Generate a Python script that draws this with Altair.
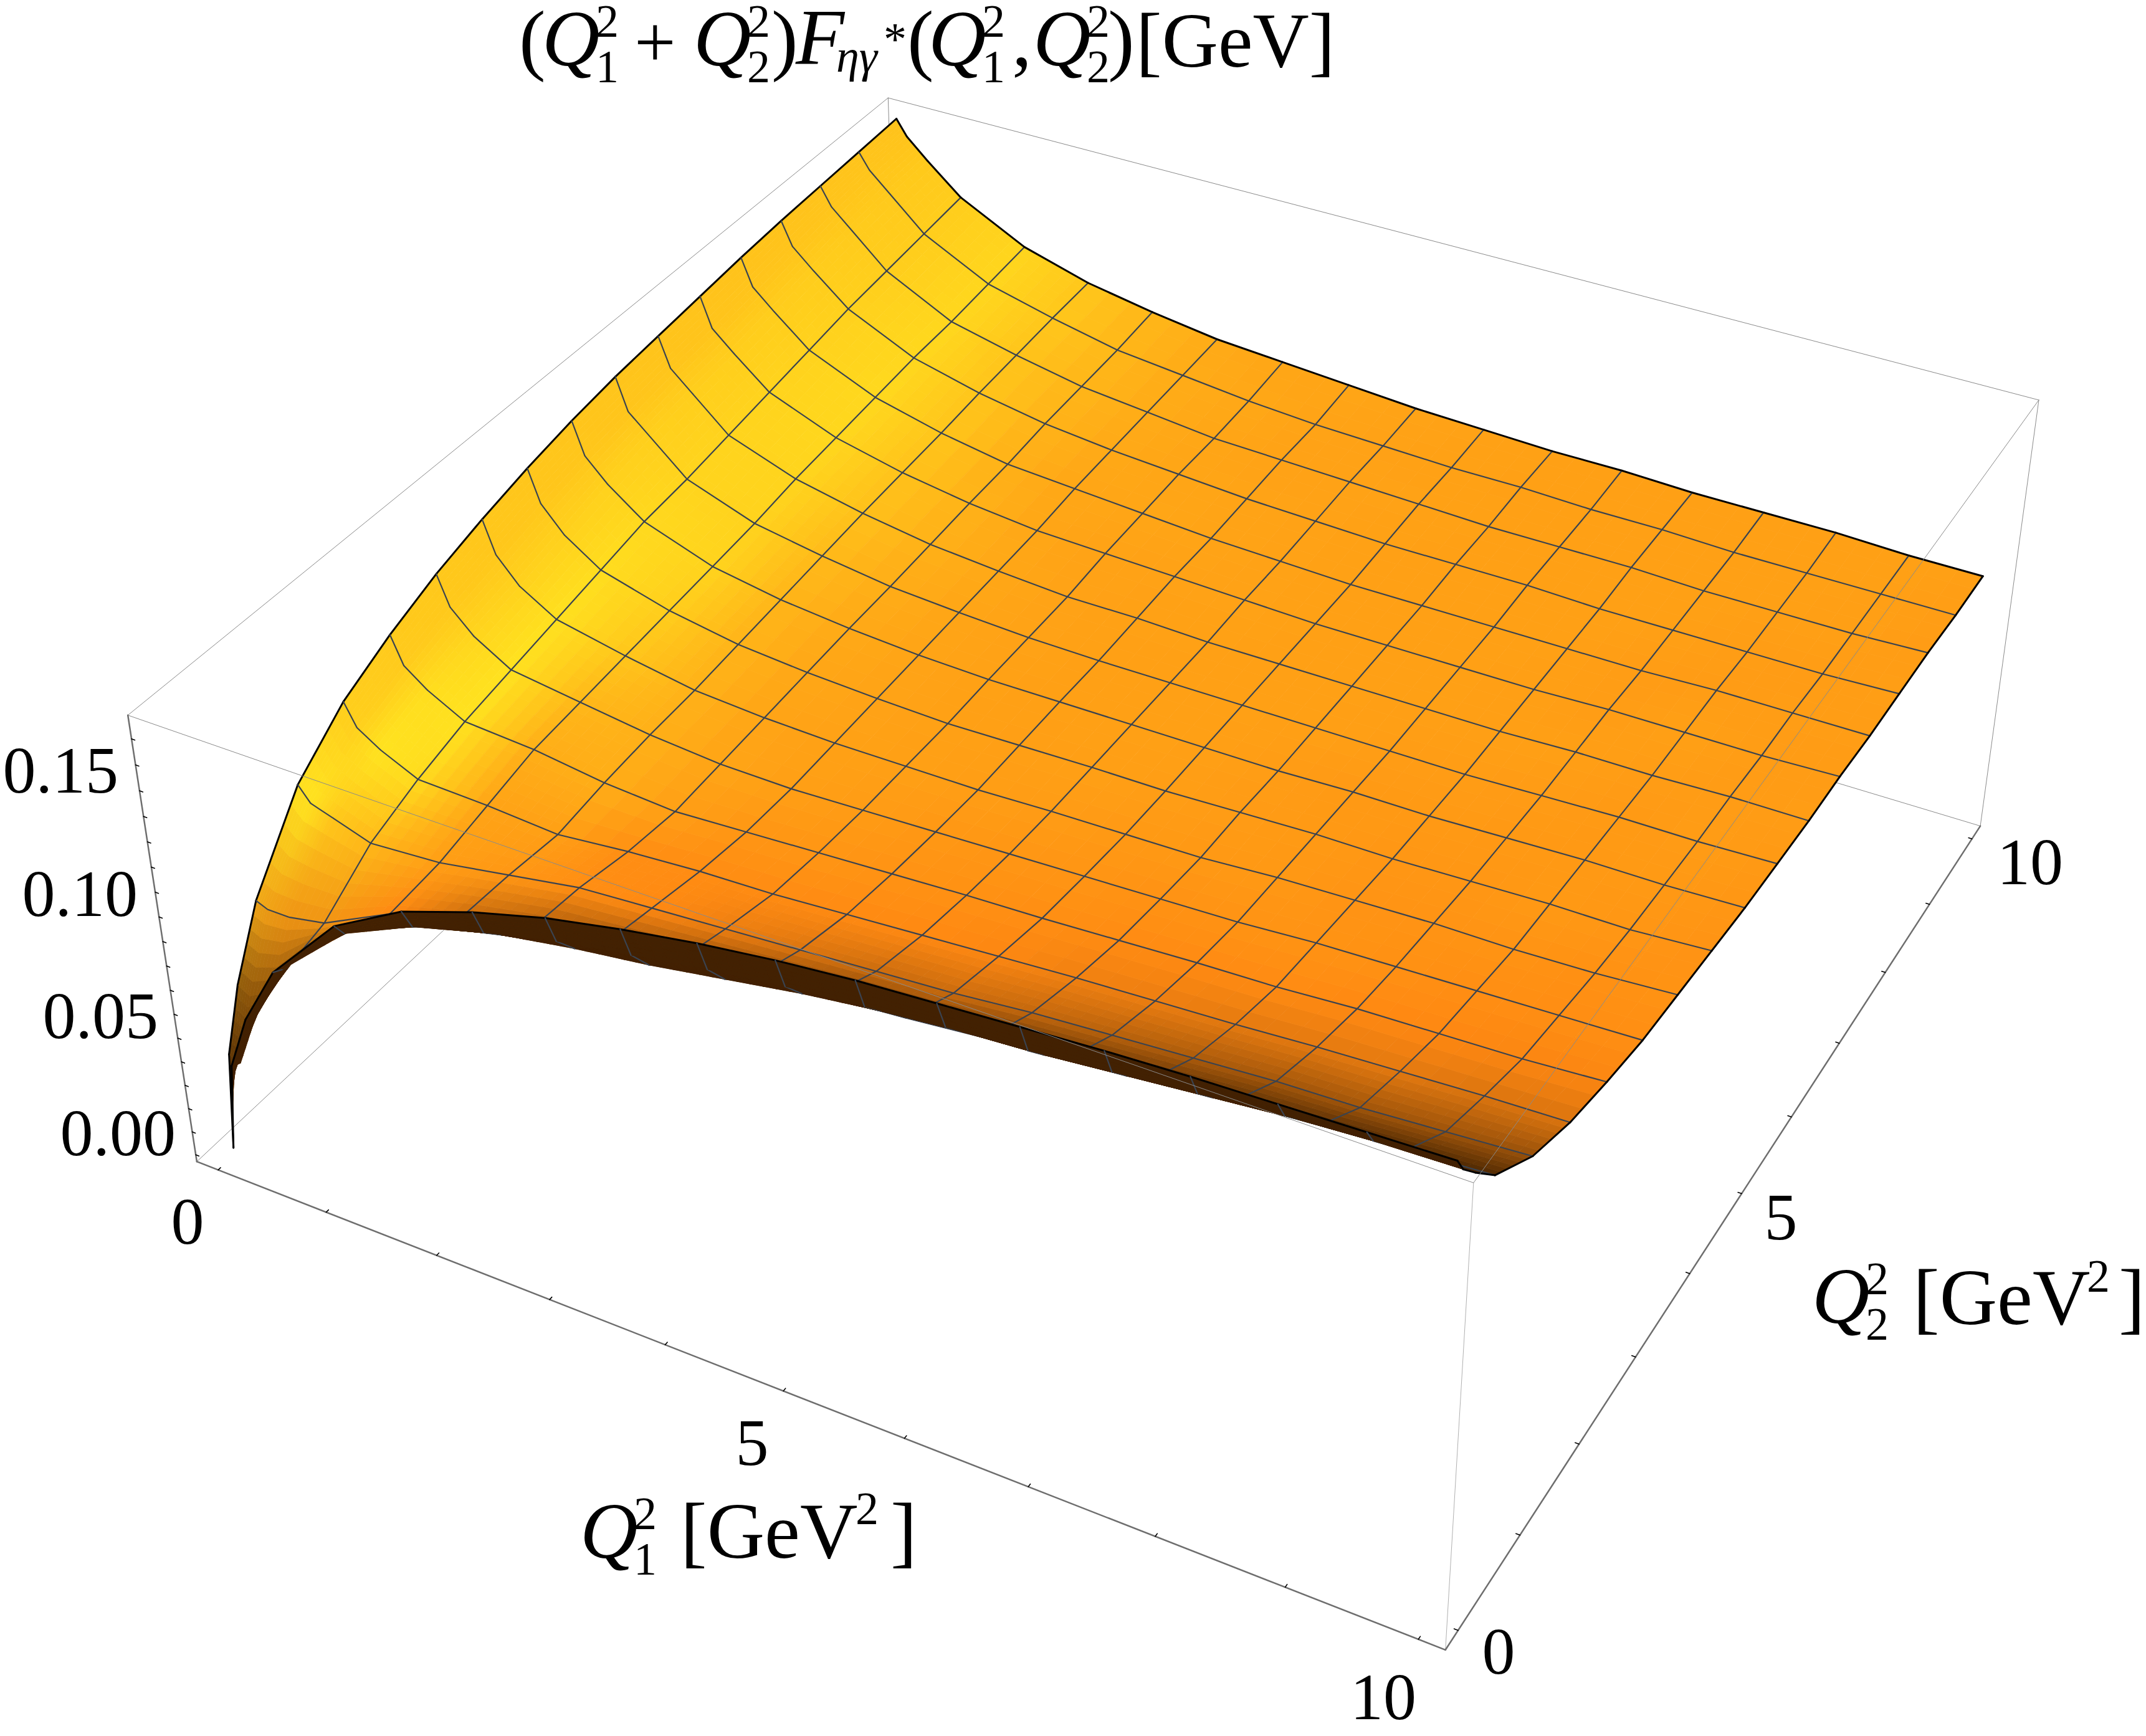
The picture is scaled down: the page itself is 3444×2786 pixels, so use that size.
import numpy as np
import altair as alt

# ---- data ----
q_grid = [0, .1, .3, .625, 1.25, 1.875, 2.5, 3.125, 3.75, 4.375, 5, 5.625, 6.25, 6.875, 7.5, 8.125, 8.75, 9.375, 10]
# lower triangle of the symmetric surface z(a, b), b <= a
z_rows = [
 [0],
 [.037, .035],
 [.060, .057, .062],
 [.085, .083, .083, .086],
 [.114, .108, .105, .100, .102],
 [.130, .121, .115, .108, .107, .105],
 [.140, .129, .122, .114, .112, .108, .106],
 [.148, .136, .127, .118, .114, .110, .1075, .107],
 [.154, .141, .131, .122, .116, .111, .109, .108, .108],
 [.159, .146, .136, .126, .118, .113, .1105, .109, .108, .1085],
 [.163, .150, .141, .130, .120, .115, .112, .110, .109, .109, .109],
 [.166, .153, .145, .132, .122, .117, .113, .111, .1095, .109, .109, .109],
 [.168, .156, .148, .135, .125, .119, .1145, .112, .110, .110, .109, .109, .109],
 [.170, .158, .150, .138, .127, .1205, .116, .113, .112, .111, .110, .109, .109, .109],
 [.172, .161, .153, .141, .129, .122, .117, .115, .113, .111, .110, .109, .109, .109, .109],
 [.1735, .164, .156, .144, .131, .124, .119, .116, .114, .112, .111, .110, .110, .110, .109, .109],
 [.1745, .167, .159, .146, .132, .1255, .120, .117, .114, .113, .112, .111, .110, .110, .110, .109, .109],
 [.1755, .169, .161, .148, .134, .127, .121, .118, .115, .113, .112, .111, .111, .110, .110, .109, .109, .109],
 [.1765, .170, .162, .150, .136, .128, .123, .119, .117, .115, .113, .112, .111, .111, .110, .110, .110, .109, .109],
]
low_q_shade = [.92, .85, .62, .08]  # darkening of the low-Q corner, by row
mesh_from = 3  # first grid index carrying a mesh line
q_ticks = list(range(0, 11))
z_ticks = [round(i * .01, 2) for i in range(0, 18)]
q_range = (-.2, 10.2)
z_range = (-.003, .179)
# view calibration: box corners as seen in the picture
view_corners = [
 ((0, 0, 0), (318, 1867)), ((1, 0, 0), (2322, 2647)), ((1, 1, 0), (3178, 1324)), ((0, 1, 0), (1443, 804)),
 ((0, 0, 1), (204, 1144)), ((1, 0, 1), (2361, 1900)), ((1, 1, 1), (3273, 643)), ((0, 1, 1), (1428, 158)),
]
FONT = "Liberation Serif"
W, H = 3428, 2770

# ---- projection ----
A = []
for (u, v, w), (x, y) in view_corners:
    A.append([u, v, w, 1, 0, 0, 0, 0, -x*u, -x*v, -x*w, -x])
    A.append([0, 0, 0, 0, u, v, w, 1, -y*u, -y*v, -y*w, -y])
P = np.linalg.svd(np.array(A, float))[2][-1].reshape(3, 4)


def hom(a, b, z):
    u = (a - q_range[0]) / (q_range[1] - q_range[0])
    v = (b - q_range[0]) / (q_range[1] - q_range[0])
    w = (z - z_range[0]) / (z_range[1] - z_range[0])
    return P @ np.array([u, v, w, 1.0])


def proj(a, b, z):
    h = hom(a, b, z)
    return [round(float(h[0] / h[2]) - 8, 1), round(float(h[1] / h[2]) - 8, 1)]


def depth(a, b, z):
    return abs(float(hom(a, b, z)[2]))


q = np.array(q_grid, float)
n = len(q)
Z = np.zeros((n, n))  # Z[i, j]: a = q[i], b = q[j]
for i, row in enumerate(z_rows):
    for j, v in enumerate(row):
        Z[i, j] = Z[j, i] = v

# ---- shading from surface normals ----
zs = 10.4 / .182
za = -np.gradient(Z, q, axis=0) * zs
zb = -np.gradient(Z, q, axis=1) * zs
nrm = np.sqrt(1 + za**2 + zb**2)
na, nb = za / nrm, zb / nrm
ORANGE = np.array([255, 158, 21.]); DEEP = np.array([255, 136, 18.])
YELLOW = np.array([255, 232, 32.]); BROWN = np.array([70, 36, 2.])
UNDER = (66, 33, 2)


def mix(c1, c2, t):
    return c1 + (c2 - c1) * t


C = np.zeros((n, n, 3))
for i in range(n):
    for j in range(n):
        c = mix(ORANGE, DEEP, min(max(nb[i, j], 0) / .35, 1))
        y = np.exp(-((na[i, j] - .72) / .38)**2) * (1 - min(max(nb[i, j], 0) / .5, 1)) * (1 - .25 * q[j] / 10)
        c = mix(c, YELLOW, y)
        d = min(max((nb[i, j] - .35) / .55, 0), 1)**1.3
        if i <= 3 and j <= 3:
            d = max(d, low_q_shade[j])
        C[i, j] = mix(c, BROWN, d)


def hexc(c):
    return "#%02x%02x%02x" % tuple(int(round(float(x))) for x in c)


def area(p):
    s = 0
    for k in range(len(p)):
        x0, y0 = p[k]; x1, y1 = p[(k + 1) % len(p)]
        s += x0 * y1 - x1 * y0
    return s


def poly(ring, color):
    return {"type": "Feature", "geometry": {"type": "Polygon", "coordinates": [ring + [ring[0]]]},
            "properties": {"f": color, "s": color, "w": 0.8}}


def line(pts, color, width):
    return {"type": "Feature", "geometry": {"type": "LineString", "coordinates": pts},
            "properties": {"f": "transparent", "s": color, "w": width}}


ref_sign = np.sign(area([proj(q[i], q[j], Z[i, j]) for i, j in [(15, 15), (16, 15), (16, 16), (15, 16)]]))
cell_depth = np.zeros((n - 1, n - 1))
for i in range(n - 1):
    for j in range(n - 1):
        cell_depth[i, j] = np.mean([depth(q[i + a], q[j + b], Z[i + a, j + b]) for a in (0, 1) for b in (0, 1)])

items = []
for i in range(n - 1):
    for j in range(n - 1):
        SUB = 6 if (i <= 4 or j <= 4) else 3

        def pt(s, t):
            a = q[i] + (q[i + 1] - q[i]) * s
            b = q[j] + (q[j + 1] - q[j]) * t
            z = (Z[i, j]*(1-s)*(1-t) + Z[i+1, j]*s*(1-t) + Z[i, j+1]*(1-s)*t + Z[i+1, j+1]*s*t)
            col = (C[i, j]*(1-s)*(1-t) + C[i+1, j]*s*(1-t) + C[i, j+1]*(1-s)*t + C[i+1, j+1]*s*t)
            return proj(a, b, z), col
        for si in range(SUB):
            for sj in range(SUB):
                cs = [(si/SUB, sj/SUB), ((si+1)/SUB, sj/SUB), ((si+1)/SUB, (sj+1)/SUB), (si/SUB, (sj+1)/SUB)]
                res = [pt(s, t) for s, t in cs]
                ring = [r[0] for r in res]
                col = sum(r[1] for r in res) / 4
                if np.sign(area(ring)) != ref_sign:
                    col = np.array(UNDER, float)
                items.append((cell_depth[i, j], 0, poly(ring, hexc(col))))

MESH = "#3a4350"
for i in range(n):
    for j in range(n - 1):
        edge = i == 0 or i == n - 1
        if edge or i >= mesh_from:
            neigh = [cell_depth[k, j] for k in (i - 1, i) if 0 <= k < n - 1]
            items.append((min(neigh) - 1e-9, 1, line([proj(q[i], q[j], Z[i, j]), proj(q[i], q[j + 1], Z[i, j + 1])],
                                                     "#000000" if edge else MESH, 3 if edge else 2.2)))
            neigh = [cell_depth[j, k] for k in (i - 1, i) if 0 <= k < n - 1]
            items.append((min(neigh) - 1e-9, 1, line([proj(q[j], q[i], Z[j, i]), proj(q[j + 1], q[i], Z[j + 1, i])],
                                                     "#000000" if edge else MESH, 3 if edge else 2.2)))
items.sort(key=lambda it: (-it[0], it[1]))
surface = [it[2] for it in items]

# ---- box and ticks ----
lo, hi = q_range
zl, zh = z_range
c = {k: proj(*k) for k in [(x, y, z) for x in (lo, hi) for y in (lo, hi) for z in (zl, zh)]}
THIN = "#8a8a8a"; AXIS = "#6e6e6e"
back = [line([c[(lo, lo, zh)], c[(lo, hi, zh)]], THIN, 1), line([c[(lo, hi, zh)], c[(hi, hi, zh)]], THIN, 1),
        line([c[(lo, hi, zh)], c[(lo, hi, zl)]], THIN, 1), line([c[(lo, lo, zl)], c[(lo, hi, zl)]], THIN, 1),
        line([c[(lo, hi, zl)], c[(hi, hi, zl)]], THIN, 1)]
front = [line([c[(lo, lo, zh)], c[(hi, lo, zh)]], THIN, 1), line([c[(hi, lo, zh)], c[(hi, hi, zh)]], THIN, 1),
         line([c[(hi, lo, zl)], c[(hi, lo, zh)]], "#b0b0b0", 1), line([c[(hi, hi, zl)], c[(hi, hi, zh)]], THIN, 1),
         line([c[(lo, lo, zl)], c[(lo, lo, zh)]], AXIS, 2.5), line([c[(lo, lo, zl)], c[(hi, lo, zl)]], AXIS, 2.5),
         line([c[(hi, lo, zl)], c[(hi, hi, zl)]], AXIS, 2.5)]
for v in q_ticks:
    front.append(line([proj(v, lo, zl), proj(v, lo + .03, zl)], "#000000", 1.6))
    front.append(line([proj(hi, v, zl), proj(hi - .03, v, zl)], "#000000", 1.6))
for v in z_ticks:
    front.append(line([proj(lo, lo, v), proj(lo + .03, lo, v)], "#000000", 1.6))


def shapes(feats):
    return alt.Chart(alt.Data(values=feats)).mark_geoshape(strokeJoin="round", strokeCap="round").encode(
        fill=alt.Fill("properties.f:N", scale=None),
        stroke=alt.Stroke("properties.s:N", scale=None),
        strokeWidth=alt.StrokeWidth("properties.w:Q", scale=None),
    ).project(**{"type": "identity", "scale": 1, "translate": [0, 0]})


def T(s, x, y, size=106, style="normal", align="left"):
    return alt.Chart(alt.Data(values=[{"a": 1}])).mark_text(
        text=s, x=x - 8, y=y - 8, fontSize=size, fontStyle=style, font=FONT, align=align,
        baseline="alphabetic", color="black")


def Qlabel(x, y, sub):
    return [T("Q", x, y, 128, "italic"), T("2", x + 86, y - 46, 74), T(sub, x + 86, y + 27, 74)]


texts = [
    T("0.15", 190, 1272, align="right"), T("0.10", 221, 1470, align="right"),
    T("0.05", 254, 1666, align="right"), T("0.00", 282, 1854, align="right"),
    T("0", 301, 1996, align="center"), T("5", 1207, 2351, align="center"),
    T("10", 2220, 2759, align="center"), T("0", 2405, 2686, align="center"),
    T("5", 2858, 1989, align="center"), T("10", 3258, 1419, align="center"),
    # title
    T("(", 833, 105, 128), *Qlabel(870, 105, "1"), T("+", 1018, 108, 118),
    *Qlabel(1113, 105, "2"), T(")", 1238, 105, 128), T("F", 1277, 102, 128, "italic"),
    T("ηγ", 1342, 115, 74, "italic"), T("*", 1418, 88, 74), T("(", 1456, 105, 128),
    *Qlabel(1490, 105, "1"), T(",", 1624, 105, 128), *Qlabel(1658, 105, "2"),
    T(")", 1778, 105, 128), T("[GeV]", 1823, 107, 125),
    # Q1 axis title
    *Qlabel(931, 2500, "1"), T("[GeV", 1092, 2500, 128), T("2", 1373, 2446, 74), T("]", 1429, 2500, 128),
    # Q2 axis title
    *Qlabel(2908, 2123, "2"), T("[GeV", 3070, 2125, 128), T("2", 3349, 2073, 74), T("]", 3400, 2125, 128),
]

chart = alt.layer(shapes(back), shapes(surface), shapes(front), *texts).properties(
    width=W, height=H, padding=0, background="white",
    autosize=alt.AutoSizeParams(type="none"),
).configure_view(stroke=None)

chart.save("out.html", embed_options={"renderer": "svg", "actions": False})
